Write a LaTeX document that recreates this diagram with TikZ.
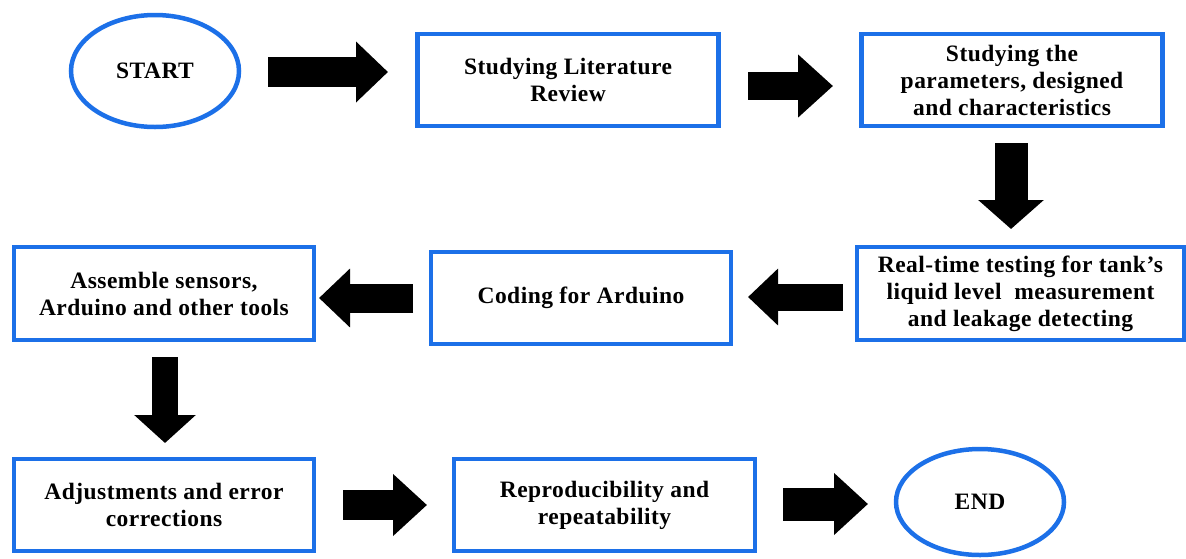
\documentclass[tikz,border=0pt]{standalone}
\usepackage{fontspec}
\setmainfont[LetterSpace=2]{Liberation Serif}
\usetikzlibrary{arrows.meta,shapes.geometric}
\definecolor{boxblue}{RGB}{28,112,232}
\begin{document}
\begin{tikzpicture}[x=1pt,y=-1pt,
  every node/.style={font=\bfseries\fontsize{23.5}{27}\selectfont, text=black, align=center, inner sep=0pt},
  procbox/.style={draw=boxblue, line width=4.5pt, fill=white, rectangle},
  terminal/.style={draw=boxblue, line width=4.5pt, fill=white, ellipse},
  fat/.style n args={3}{draw=black, line width=#1pt, line cap=butt,
    -{Triangle[length=#2pt,width=#3pt]}}
]
\useasboundingbox (0,0) rectangle (1186,558);
\fill[white] (0,0) rectangle (1186,558);

% nodes
\node[terminal, minimum width=168pt, minimum height=112pt] (start) at (155,71) {START};
\node[procbox, minimum width=301pt, minimum height=92pt] (lit) at (568,80) {Studying Literature\\Review};
\node[procbox, minimum width=301pt, minimum height=92pt] (param) at (1012,80) {Studying the\\parameters, designed\\and characteristics};
\node[procbox, minimum width=327pt, minimum height=93pt] (real) at (1020.5,293.5) {Real-time testing for tank’s\\liquid level \ measurement\\and leakage detecting};
\node[procbox, minimum width=300pt, minimum height=92pt] (code) at (581,298) {Coding for Arduino};
\node[procbox, minimum width=300pt, minimum height=93pt] (asm) at (164,293.5) {Assemble sensors,\\Arduino and other tools};
\node[procbox, minimum width=300pt, minimum height=92pt] (adj) at (164,505) {Adjustments and error\\corrections};
\node[procbox, minimum width=301pt, minimum height=92pt] (rep) at (604.5,505) {Reproducibility and\\repeatability};
\node[terminal, minimum width=168pt, minimum height=106pt] (end) at (980,502) {END};

% arrow end points
\coordinate (a1s) at (268,72);   \coordinate (a1e) at (388,72);
\coordinate (a2s) at (748,86);   \coordinate (a2e) at (833,86);
\coordinate (a3s) at (1011,143); \coordinate (a3e) at (1011,229);
\coordinate (a4s) at (843,297);  \coordinate (a4e) at (748,297);
\coordinate (a5s) at (413,298);  \coordinate (a5e) at (319,298);
\coordinate (a6s) at (165,357);  \coordinate (a6e) at (165,443);
\coordinate (a7s) at (343,505);  \coordinate (a7e) at (427,505);
\coordinate (a8s) at (783,504);  \coordinate (a8e) at (868,504);

\draw[fat={30}{32}{59}] (a1s) -- (a1e);
\draw[fat={28}{35}{61}] (a2s) -- (a2e);
\draw[fat={33}{29}{64}] (a3s) -- (a3e);
\draw[fat={27}{30}{55}] (a4s) -- (a4e);
\draw[fat={29}{31}{57}] (a5s) -- (a5e);
\draw[fat={26}{28}{60}] (a6s) -- (a6e);
\draw[fat={30}{34}{60}] (a7s) -- (a7e);
\draw[fat={33}{34}{60}] (a8s) -- (a8e);
\end{tikzpicture}
\end{document}
